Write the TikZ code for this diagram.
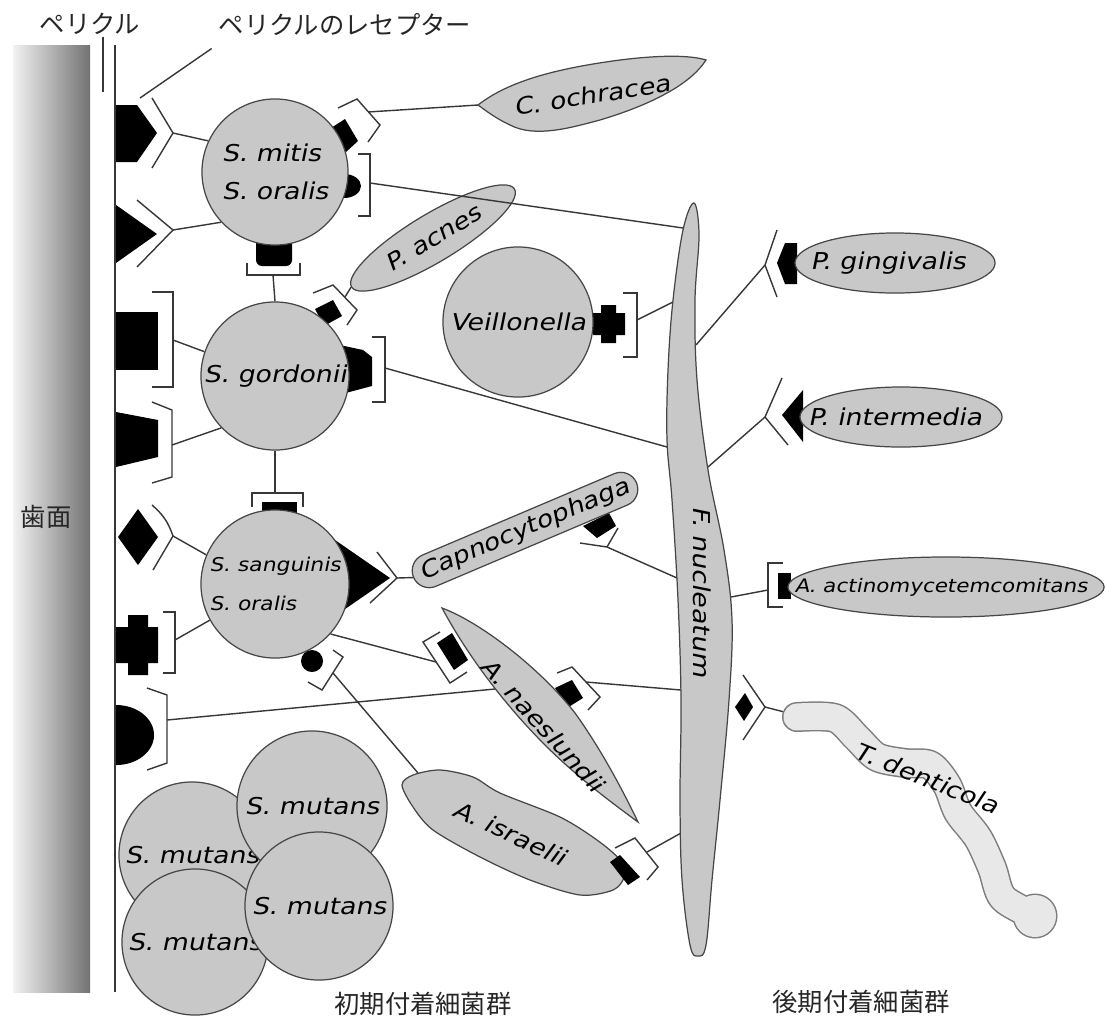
\documentclass[tikz,border=0pt]{standalone}
\usepackage{fontspec}
\usepackage{tikz}
\usetikzlibrary{shapes.geometric,backgrounds}
\newfontfamily\bacfont{DejaVu Sans}[FakeSlant=0.2,FakeStretch=1.15]
\newfontfamily\jpfont{Noto Sans CJK JP}
\definecolor{cellfill}{RGB}{200,200,200}
\definecolor{celledge}{RGB}{70,70,70}
\definecolor{linkgray}{RGB}{55,55,55}
\definecolor{spirofill}{RGB}{232,232,232}
\definecolor{spiroedge}{RGB}{125,125,125}
\tikzset{
  bac/.style={font=\bacfont\fontsize{6.6}{10.8}\selectfont},
  bacsmall/.style={font=\bacfont\fontsize{5.3}{6}\selectfont},
  jp/.style={font=\jpfont\fontsize{7.2}{8}\selectfont, text=black!85},
  cell/.style={circle, draw=celledge, fill=cellfill, line width=0.35pt, inner sep=0pt, bac},
  rod/.style={ellipse, draw=celledge, fill=cellfill, line width=0.35pt, inner sep=0pt},
  body/.style={draw=celledge, fill=cellfill, line width=0.35pt},
  lnk/.style={draw=linkgray, line width=0.4pt},
}

\begin{document}
\begin{tikzpicture}[x=0.01cm, y=0.01cm]
  \useasboundingbox (0,0) rectangle (1107,-1024);

  % tooth surface and pellicle
  \shade[left color=black!5, middle color=black!20, right color=black!55] (13,-45) rectangle (90,-992);
  \node[jp] (tooth) at (46,-517) {歯面};
  \draw[lnk] (103,-37) -- (103,-92);
  \draw[lnk] (115,-45) -- (115,-992);
  \node[jp] (pellicle) at (90,-24) {ペリクル};
  \node[jp] (receptor) at (345,-25) {ペリクルのレセプター};
  \coordinate (rcpTip) at (140,-98);
  \draw[lnk] (rcpTip) -- (receptor.190);

  % early colonizers
  \node[cell, minimum size=1.46cm, align=left] (mitis) at (275,-172) {S. mitis\\S. oralis};
  \node[cell, minimum size=1.48cm] (gordonii) at (275,-376) {S. gordonii};
  \node[cell, minimum size=1.48cm, align=left, font=\bacfont\fontsize{5.4}{11}\selectfont]
    (sanguinis) at (275,-584) {S. sanguinis\\S. oralis};
  \node[cell, minimum size=1.5cm] (veil) at (518,-322) {Veillonella};
  \node[cell, minimum size=1.46cm] (mutA) at (192,-855) {S. mutans};
  \node[cell, minimum size=1.5cm] (mutB) at (312,-806) {S. mutans};
  \node[cell, minimum size=1.46cm] (mutC) at (195,-942) {S. mutans};
  \node[cell, minimum size=1.48cm] (mutD) at (319,-906) {S. mutans};

  % C. ochracea
  \path[body] (478,-105) .. controls (510,-80) and (560,-68) .. (620,-60)
    .. controls (660,-55) and (690,-55) .. (706,-60)
    .. controls (690,-85) and (650,-105) .. (600,-120)
    .. controls (570,-128) and (535,-138) .. (510,-125)
    .. controls (495,-118) and (485,-110) .. (478,-105) -- cycle;
  \node[bac, rotate=9] (ochTxt) at (592,-95) {C. ochracea};
  \coordinate (ochTip) at (478,-105);

  \node[rod, bac, rotate=31, minimum width=1.9cm, minimum height=0.48cm] (acnes) at (433,-238) {P. acnes};

  \node[bac, rotate=23, draw=celledge, fill=cellfill, line width=0.35pt, rounded corners=0.17cm,
        minimum width=2.42cm, minimum height=0.34cm, inner sep=0pt] (capno) at (525,-530) {Capnocytophaga};

  % A. naeslundii
  \path[body] (442,-608) .. controls (480,-622) and (540,-668) .. (575,-713)
    .. controls (603,-752) and (625,-795) .. (638,-822)
    .. controls (608,-800) and (575,-775) .. (545,-745)
    .. controls (508,-708) and (470,-660) .. (442,-608) -- cycle;
  \node[bac, rotate=-48] (naesTxt) at (543,-725) {A. naeslundii};
  \coordinate (naesEdge) at (495,-689);

  % A. israelii
  \path[body] plot[smooth cycle] coordinates {(402,-785) (413,-775) (440,-770) (473,-777) (500,-793)
    (560,-817) (597,-840) (620,-860) (624,-877) (613,-890) (580,-895) (530,-880) (480,-857)
    (433,-830) (413,-807)};
  \node[bac, rotate=-25] (israTxt) at (510,-833) {A. israelii};
  \coordinate (israTop) at (418,-773);
  \fill (610,-862) -- (620,-855) -- (640,-877) -- (628,-885) -- cycle;

  % F. nucleatum
  \path[body] plot[smooth cycle, tension=0.6] coordinates {(694,-203) (699,-235) (695,-300) (697,-380)
    (708,-470) (724,-550) (732,-620) (729,-700) (720,-800) (712,-880) (706,-945) (698,-956)
    (690,-945) (682,-880) (680,-800) (681,-700) (678,-600) (672,-500) (667,-440) (668,-370)
    (673,-300) (683,-230)};
  \node[bac, rotate=-90] (fnucTxt) at (702,-592) {F. nucleatum};
  \coordinate (fnA) at (683,-228);
  \coordinate (fnB) at (673,-302);
  \coordinate (fnC) at (696,-345);
  \coordinate (fnD) at (667,-447);
  \coordinate (fnE) at (708,-467);
  \coordinate (fnF) at (677,-578);
  \coordinate (fnG) at (731,-597);
  \coordinate (fnH) at (681,-690);
  \coordinate (fnI) at (681,-833);

  % late colonizers
  \node[rod, minimum width=2cm, minimum height=0.6cm] (ging) at (895,-263) {};
  \node[bac] (gingTxt) at (888,-263) {P. gingivalis};
  \node[rod, minimum width=2.02cm, minimum height=0.6cm] (inter) at (901,-417) {};
  \node[bac] (interTxt) at (895,-417) {P. intermedia};
  \node[rod, minimum width=3.16cm, minimum height=0.6cm] (actino) at (946,-587) {};
  \node[bacsmall] (actinoTxt) at (941,-587) {A. actinomycetemcomitans};

  % T. denticola
  \draw[spiroedge, line width=0.3cm, line cap=round, line join=round] plot[smooth] coordinates
    {(797,-717) (835,-718) (857,-738) (877,-757) (905,-763) (930,-765) (947,-785) (958,-812)
     (978,-838) (992,-868) (1003,-898) (1035,-916)};
  \fill[spiroedge] (1035,-916) circle (0.225cm);
  \draw[spirofill, line width=0.27cm, line cap=round, line join=round] plot[smooth] coordinates
    {(797,-717) (835,-718) (857,-738) (877,-757) (905,-763) (930,-765) (947,-785) (958,-812)
     (978,-838) (992,-868) (1003,-898) (1035,-916)};
  \fill[spirofill] (1035,-916) circle (0.21cm);
  \node[bac, rotate=-22] (tdenTxt) at (927,-778) {T. denticola};
  \coordinate (tdenHead) at (792,-714);

  % pellicle receptors
  \draw[lnk] (152,-98) -- (173,-133) -- (152,-168);
  \coordinate (pr1) at (173,-133);
  \draw[lnk] (137,-200) -- (173,-230) -- (137,-267);
  \coordinate (pr2) at (173,-230);
  \draw[lnk] (152,-292) -- (173,-292) -- (173,-387) -- (152,-387);
  \coordinate (pr3) at (173,-340);
  \draw[lnk] (152,-402) -- (172,-410) -- (172,-477) -- (152,-483);
  \coordinate (pr4) at (172,-445);
  \draw[lnk] (152,-505) to[bend left=15] (173,-536) -- (153,-570);
  \coordinate (pr5) at (173,-536);
  \draw[lnk] (163,-612) -- (175,-612) -- (175,-673) -- (163,-673);
  \coordinate (pr6) at (175,-640);
  \draw[lnk] (147,-688) -- (167,-695) -- (167,-763) -- (147,-770);
  \coordinate (pr7) at (167,-720);

  % receptors between cells
  \draw[lnk] (338,-108) -- (357,-99) -- (380,-125) -- (368,-142);
  \coordinate (mitisOch) at (368,-112);
  \draw[lnk] (358,-154) -- (370,-154) -- (370,-216) -- (358,-216);
  \coordinate (mitisFn) at (370,-183);
  \draw[lnk] (247,-263) -- (247,-275) -- (300,-275) -- (300,-263);
  \coordinate (mitisGor) at (273,-275);
  \draw[lnk] (313,-293) -- (333,-285) -- (357,-310) -- (347,-325);
  \coordinate (gorAcn) at (345,-297);
  \draw[lnk] (372,-337) -- (385,-337) -- (385,-402) -- (372,-402);
  \coordinate (gorFn) at (385,-368);
  \draw[lnk] (252,-507) -- (252,-493) -- (303,-493) -- (303,-507);
  \coordinate (sanGor) at (275,-493);
  \draw[lnk] (377,-552) -- (397,-578) -- (370,-603);
  \coordinate (sanCap) at (397,-578);
  \draw[lnk] (333,-650) -- (343,-657) -- (322,-690) -- (308,-682);
  \coordinate (sanIsr) at (333,-673);
  \draw[lnk] (440,-632) -- (423,-642) -- (450,-683) -- (467,-672);
  \coordinate (naesSan) at (436,-662);
  \draw[lnk] (557,-673) -- (572,-667) -- (600,-697) -- (588,-710);
  \coordinate (naesFn) at (586,-682);
  \draw[lnk] (615,-848) -- (635,-838) -- (658,-867) -- (647,-880);
  \coordinate (israFn) at (647,-852);
  \draw[lnk] (580,-543) -- (607,-547) -- (618,-528);
  \coordinate (capFn) at (607,-547);
  \draw[lnk] (623,-293) -- (637,-293) -- (637,-357) -- (623,-357);
  \coordinate (veilFn) at (637,-320);
  \draw[lnk] (777,-230) -- (765,-265) -- (777,-297);
  \coordinate (gingFn) at (765,-265);
  \draw[lnk] (782,-378) -- (765,-417) -- (788,-445);
  \coordinate (interFn) at (765,-417);
  \draw[lnk] (783,-563) -- (768,-563) -- (768,-607) -- (783,-607);
  \coordinate (actFn) at (768,-590);
  \draw[lnk] (743,-675) -- (765,-707) -- (743,-740);
  \coordinate (fnTden) at (765,-707);

  \begin{pgfonlayer}{background}
    % binding lines
    \draw[lnk] (pr1) -- (mitis.155);
    \draw[lnk] (pr2) -- (mitis.223);
    \draw[lnk] (pr3) -- (gordonii.161);
    \draw[lnk] (pr4) -- (gordonii.224);
    \draw[lnk] (pr5) -- (sanguinis.157);
    \draw[lnk] (pr6) -- (sanguinis.209);
    \draw[lnk] (pr7) -- (naesEdge);
    \draw[lnk] (mitisOch) -- (ochTip);
    \draw[lnk] (mitisGor) -- (gordonii.north);
    \draw[lnk] (gorAcn) -- (acnes.west);
    \draw[lnk] (gorFn) -- (fnD);
    \draw[lnk] (sanGor) -- (gordonii.south);
    \draw[lnk] (sanCap) -- (capno.west);
    \draw[lnk] (sanguinis.-42) -- (naesSan);
    \draw[lnk] (sanIsr) -- (israTop);
    \draw[lnk] (naesFn) -- (fnH);
    \draw[lnk] (israFn) -- (fnI);
    \draw[lnk] (capFn) -- (fnF);
    \draw[lnk] (veilFn) -- (fnB);
    \draw[lnk] (fnC) -- (gingFn);
    \draw[lnk] (fnE) -- (interFn);
    \draw[lnk] (fnG) -- (actFn);
    \draw[lnk] (fnTden) -- (tdenHead);

    % adhesins on the pellicle
    \fill (116,-105) -- (137,-105) -- (157,-133) -- (137,-162) -- (116,-162) -- cycle;
    \fill (116,-205) -- (157,-234) -- (116,-263) -- cycle;
    \fill (116,-312) rectangle (158,-370);
    \fill (116,-412) -- (158,-420) -- (158,-457) -- (116,-467) -- cycle;
    \fill (118,-537) -- (138,-509) -- (158,-537) -- (138,-565) -- cycle;
    \fill (128,-615) rectangle (148,-675) (116,-627) rectangle (158,-663);
    \fill (116,-705) arc[start angle=90, end angle=-90, x radius=0.38cm, y radius=0.3cm] -- cycle;

    % adhesins on the cells
    \fill (331,-128) -- (345,-119) -- (358,-141) -- (346,-152) -- cycle;
    \fill (344,-174) arc[start angle=90, end angle=-90, x radius=0.17cm, y radius=0.12cm] -- cycle;
    \fill[rounded corners=0.06cm] (256,-236) rectangle (292,-266);
    \fill (315,-309) -- (333,-300) -- (342,-316) -- (324,-326) -- cycle;
    \fill (335,-344) -- (363,-350) -- (372,-357) -- (372,-386) -- (338,-395) -- cycle;
    \fill (262,-502) rectangle (297,-516);
    \fill (335,-540) -- (390,-578) -- (335,-616) -- cycle;
    \fill (312,-661) circle (0.11cm);
    \fill (437,-643) -- (452,-633) -- (468,-660) -- (454,-670) -- cycle;
    \fill (555,-688) -- (572,-680) -- (583,-698) -- (567,-708) -- cycle;
    \fill (583,-526) -- (609,-513) -- (616,-526) -- (597,-538) -- cycle;
    \fill (601,-305) rectangle (616,-343) (593,-313) rectangle (625,-335);
    \fill (797,-243) -- (785,-243) -- (777,-263) -- (785,-284) -- (797,-284) -- cycle;
    \fill (803,-390) -- (782,-415) -- (803,-442) -- cycle;
    \fill (778,-573) rectangle (791,-599);
    \fill (735,-707) -- (745,-693) -- (753,-707) -- (744,-721) -- cycle;
  \end{pgfonlayer}

  % crosses over P. acnes
  \draw[lnk] (mitisFn) -- (fnA);

  % group labels
  \node[jp] (early) at (423,-1004) {初期付着細菌群};
  \node[jp] (late) at (861,-1002) {後期付着細菌群};
\end{tikzpicture}
\end{document}
